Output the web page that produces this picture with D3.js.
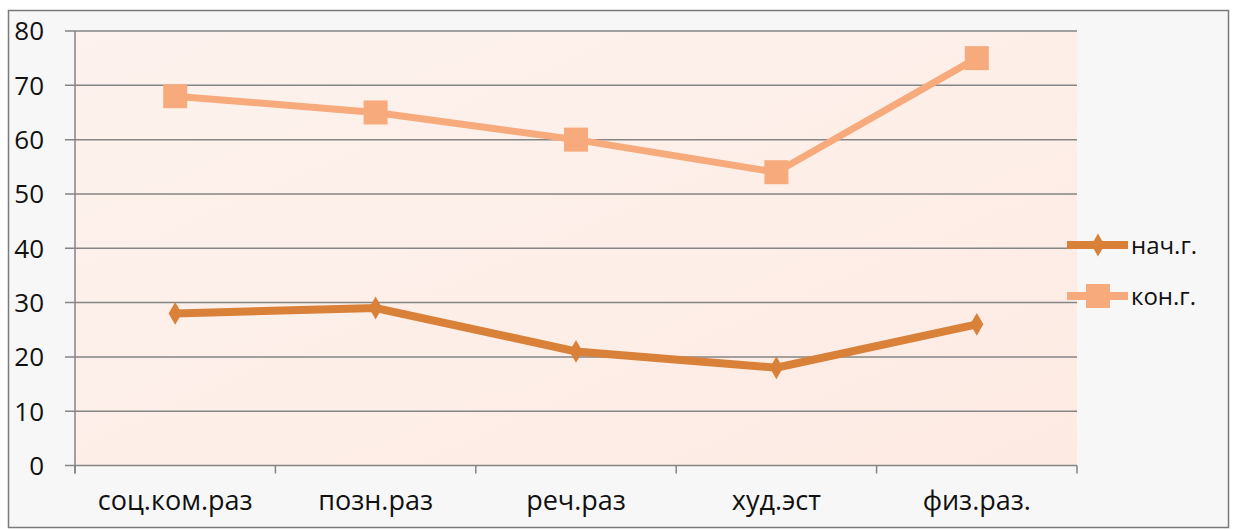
<!DOCTYPE html>
<html>
<head>
<meta charset="utf-8">
<script src="https://cdn.jsdelivr.net/npm/d3@7"></script>
<style>
  body { margin: 0; background: #fff; }
  text { font-family: "Open Sans", sans-serif; fill: #111; }
</style>
</head>
<body>
<svg id="chart" width="1237" height="530"></svg>
<script>
const categories = ["соц.ком.раз", "позн.раз", "реч.раз", "худ.эст", "физ.раз."];
const startValues = [28, 29, 21, 18, 26];   // нач.г.
const endValues = [68, 65, 60, 54, 75];     // кон.г.
const yTicks = [0, 10, 20, 30, 40, 50, 60, 70, 80];
const seriesNames = ["нач.г.", "кон.г."];

const svg = d3.select("#chart");
const W = 1237, H = 530;
const m = { left: 75, right: 160, top: 31, bottom: 64.5 };

// outer frame
svg.append("rect")
  .attr("x", 8.5).attr("y", 10.5)
  .attr("width", 1220).attr("height", 517)
  .attr("fill", "#f7f7f7")
  .attr("stroke", "#7a7a7a").attr("stroke-width", 1.5);

const x = d3.scaleBand().domain(categories).range([m.left, W - m.right]);
const y = d3.scaleLinear().domain([0, 80]).range([H - m.bottom, m.top]);

// plot background
const defs = svg.append("defs");
const grad = defs.append("linearGradient").attr("id", "bg")
  .attr("x1", 0).attr("y1", 0).attr("x2", 1).attr("y2", 1);
grad.append("stop").attr("offset", "0%").attr("stop-color", "#fdf2ed");
grad.append("stop").attr("offset", "100%").attr("stop-color", "#fdebe3");

svg.append("rect")
  .attr("x", m.left).attr("y", y(80))
  .attr("width", x.range()[1] - m.left)
  .attr("height", y(0) - y(80))
  .attr("fill", "url(#bg)");

// grid lines
svg.append("g")
  .selectAll("line")
  .data(yTicks)
  .enter().append("line")
  .attr("x1", m.left - 10).attr("x2", x.range()[1])
  .attr("y1", d => y(d)).attr("y2", d => y(d))
  .style("stroke", "#858585").style("stroke-width", 1.5);

// y axis line
svg.append("line")
  .attr("x1", m.left).attr("x2", m.left)
  .attr("y1", y(80)).attr("y2", y(0) + 8)
  .style("stroke", "#858585").style("stroke-width", 1.5);

// x ticks between categories
const bounds = d3.range(categories.length + 1).map(i => m.left + i * x.bandwidth());
svg.append("g")
  .selectAll("line")
  .data(bounds)
  .enter().append("line")
  .attr("x1", d => d).attr("x2", d => d)
  .attr("y1", y(0)).attr("y2", y(0) + 8)
  .style("stroke", "#858585").style("stroke-width", 1.5);

// y labels
svg.append("g")
  .selectAll("text")
  .data(yTicks)
  .enter().append("text")
  .attr("x", 44).attr("y", d => y(d))
  .attr("dy", "0.36em")
  .attr("text-anchor", "end")
  .style("font-size", "26px")
  .text(d => d);

// x labels
svg.append("g")
  .selectAll("text")
  .data(categories)
  .enter().append("text")
  .attr("x", d => x(d) + x.bandwidth() / 2)
  .attr("y", 510)
  .attr("text-anchor", "middle")
  .style("font-size", "27px")
  .text(d => d);

const cx = d => x(d) + x.bandwidth() / 2;
const line = d3.line().x(d => cx(d.c)).y(d => y(d.v));

const startData = categories.map((c, i) => ({ c: c, v: startValues[i] }));
const endData = categories.map((c, i) => ({ c: c, v: endValues[i] }));

const colStart = "#d98139", colEnd = "#f7aa7c";

// кон.г.
svg.append("path")
  .datum(endData)
  .attr("d", line)
  .style("fill", "none").style("stroke", colEnd).style("stroke-width", 7);
svg.append("g")
  .selectAll("rect")
  .data(endData)
  .enter().append("rect")
  .attr("x", d => cx(d.c) - 12).attr("y", d => y(d.v) - 12)
  .attr("width", 24).attr("height", 24)
  .attr("fill", colEnd);

// нач.г.
svg.append("path")
  .datum(startData)
  .attr("d", line)
  .style("fill", "none").style("stroke", colStart).style("stroke-width", 8);
const diamond = d3.symbol().type(d3.symbolDiamond).size(150);
svg.append("g")
  .selectAll("path")
  .data(startData)
  .enter().append("path")
  .attr("d", diamond)
  .attr("transform", d => `translate(${cx(d.c)},${y(d.v)})`)
  .attr("fill", colStart);

// legend
const legend = svg.append("g");
const legY = [245, 296];
const legCol = [colStart, colEnd];
seriesNames.forEach((name, i) => {
  legend.append("line")
    .attr("x1", 1067).attr("x2", 1128)
    .attr("y1", legY[i]).attr("y2", legY[i])
    .style("stroke", legCol[i]).style("stroke-width", 8);
  if (i === 0) {
    legend.append("path")
      .attr("d", diamond)
      .attr("transform", `translate(1098,${legY[i]})`)
      .attr("fill", legCol[i]);
  } else {
    legend.append("rect")
      .attr("x", 1086).attr("y", legY[i] - 12)
      .attr("width", 24).attr("height", 24)
      .attr("fill", legCol[i]);
  }
  legend.append("text")
    .attr("x", 1131).attr("y", legY[i])
    .attr("dy", "0.36em")
    .style("font-size", "24px")
    .text(name);
});
</script>
</body>
</html>
